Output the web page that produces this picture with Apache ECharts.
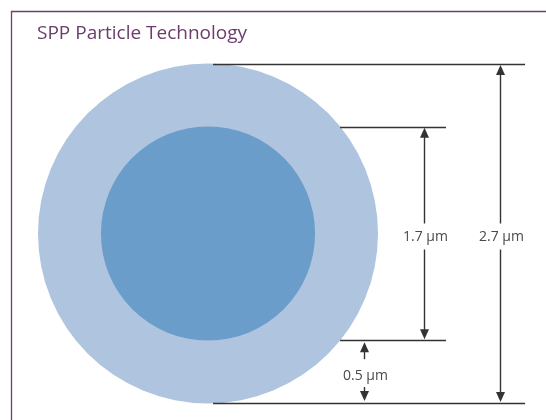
<!DOCTYPE html>
<html>
<head>
<meta charset="utf-8">
<script src="https://cdn.jsdelivr.net/npm/echarts@6/dist/echarts.min.js"></script>
<style>html,body{margin:0;padding:0;background:#fff}#c{width:546px;height:420px}</style>
</head>
<body>
<div id="c"></div>
<script>
// ---- data ----
const titleText = 'SPP Particle Technology';
const parts = ['Core', 'Shell'];
const diameters = [1.7, 2.7];        // µm, inner core / whole particle
const shellThickness = [0.5];        // µm
const dimLabels = ['1.7 µm', '2.7 µm'];
const shellLabels = ['0.5 µm'];

// ---- layout (µm coordinates) ----
const dimX = [1.716, 2.319];          // x of each vertical dimension arrow
const extEnd = [1.89, 2.518];         // right end of extension lines
const shellX = 1.239;
const lineColor = '#333333';
const textColor = '#4a4a4a';
const font = '14px "Open Sans", "Noto Sans", sans-serif';
const circleColors = ['#6a9dca', '#aec4df'];

function arrowHead(tip, dir) { // dir: -1 up, +1 down
  const w = 4.5, h = 10;
  return { type: 'polygon', shape: { points: [[tip[0], tip[1]], [tip[0] - w, tip[1] - dir * h], [tip[0] + w, tip[1] - dir * h]] }, style: { fill: lineColor } };
}
function seg(a, b) {
  return { type: 'line', shape: { x1: a[0], y1: a[1], x2: b[0], y2: b[1] }, style: { stroke: lineColor, lineWidth: 1.4 } };
}

const chart = echarts.init(document.getElementById('c'), null, { renderer: 'canvas' });
chart.setOption({
  animation: false,
  backgroundColor: '#ffffff',
  title: {
    text: titleText, left: 32, top: 19,
    textStyle: { color: '#6b3d6b', fontSize: 19, fontWeight: 'normal', fontFamily: '"Open Sans", "Noto Sans", sans-serif' }
  },
  graphic: [{
    type: 'polyline', silent: true,
    shape: { points: [[11.5, 421], [11.5, 11.5], [547, 11.5]] },
    style: { stroke: '#6b3f6b', lineWidth: 1.3, fill: null }
  }],
  grid: { left: 38, top: 64, width: 340, height: 339 },
  xAxis: { type: 'value', min: -1.35, max: 1.35, show: false },
  yAxis: { type: 'value', min: -1.35, max: 1.35, show: false },
  series: [
    { // particles: shell then core
      type: 'custom', clip: false, silent: true,
      data: [1, 0].map(i => ({ name: parts[i], value: [diameters[i], i] })),
      renderItem: (params, api) => {
        const d = api.value(0), i = api.value(1);
        const c = api.coord([0, 0]);
        const r = api.size([d / 2, 0])[0];
        return { type: 'circle', shape: { cx: c[0], cy: c[1], r: r }, style: { fill: circleColors[i] } };
      }
    },
    { // diameter dimensions
      type: 'custom', clip: false, silent: true,
      data: diameters.map((d, i) => [d, i]),
      renderItem: (params, api) => {
        const d = api.value(0), i = api.value(1);
        const h = d / 2;
        const R = diameters[1] / 2;
        const startX = i === 1 ? 0.04 : Math.sqrt(R * R - h * h);
        const topL = api.coord([startX, h]), topR = api.coord([extEnd[i], h]);
        const botL = api.coord([startX, -h]), botR = api.coord([extEnd[i], -h]);
        const tip1 = api.coord([dimX[i], h]), tip2 = api.coord([dimX[i], -h]);
        const mid = api.coord([dimX[i], 0]);
        const cy = mid[1] + 3;
        const gap = 13;
        const x = Math.round(tip1[0]) + 0.5;
        return { type: 'group', children: [
          seg([topL[0], Math.round(topL[1]) + 0.5], [topR[0], Math.round(topR[1]) + 0.5]),
          seg([botL[0], Math.round(botL[1]) + 0.5], [botR[0], Math.round(botR[1]) + 0.5]),
          seg([x, tip1[1] + 6], [x, cy - gap]),
          seg([x, cy + gap], [x, tip2[1] - 6]),
          arrowHead([x, tip1[1] + 1], -1),
          arrowHead([x, tip2[1] - 1], 1),
          { type: 'text', style: { text: dimLabels[i], x: x + 1, y: cy + 1, align: 'center', verticalAlign: 'middle', font: font, fill: textColor } }
        ] };
      }
    },
    { // shell thickness
      type: 'custom', clip: false, silent: true,
      data: shellThickness.map(t => [t]),
      renderItem: (params, api) => {
        const t = api.value(0);
        const inner = diameters[0] / 2;
        const a = api.coord([shellX, -inner]);
        const b = api.coord([shellX, -inner - t]);
        const x = Math.round(a[0]) + 0.5;
        const mid = (a[1] + b[1]) / 2 + 3;
        return { type: 'group', children: [
          seg([x, a[1] + 6], [x, a[1] + 19]),
          arrowHead([x, a[1] + 2], -1),
          seg([x, b[1] - 16], [x, b[1] - 6]),
          arrowHead([x, b[1] - 2], 1),
          { type: 'text', style: { text: shellLabels[params.dataIndex], x: x + 1, y: mid + 1, align: 'center', verticalAlign: 'middle', font: font, fill: textColor } }
        ] };
      }
    }
  ]
});
</script>
</body>
</html>
